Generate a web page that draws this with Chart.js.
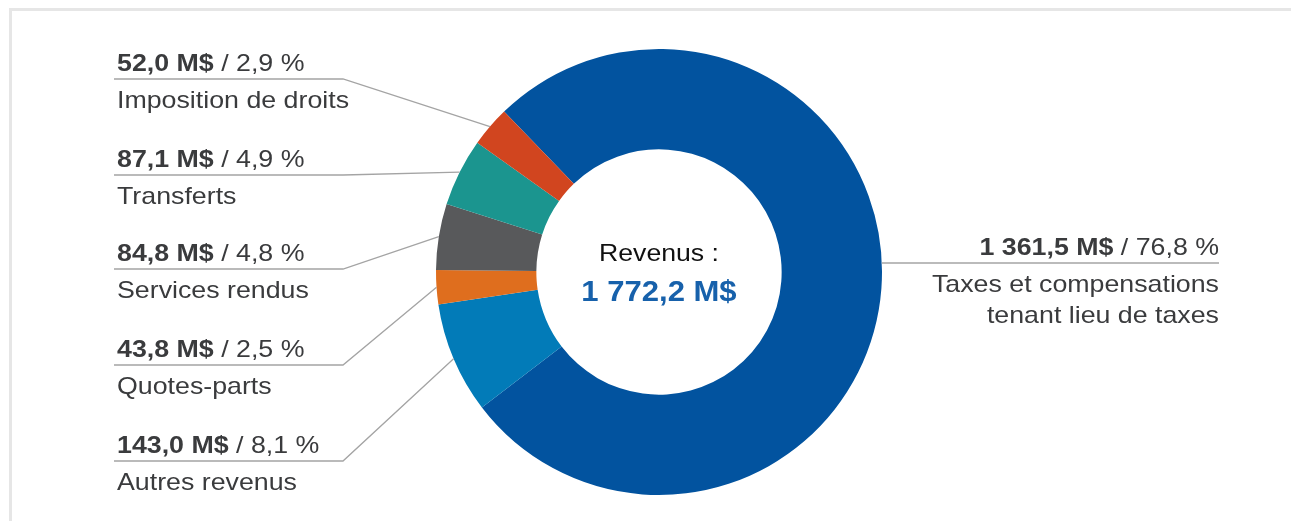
<!DOCTYPE html>
<html lang="fr">
<head>
<meta charset="UTF-8">
<title>Revenus</title>
<script src="https://cdn.jsdelivr.net/npm/chart.js"></script>
<style>
  html, body { margin: 0; padding: 0; background: #fff; }
  #frame { position: absolute; left: 9px; top: 8px; right: 0; bottom: 0; border-top: 3px solid #e6e6e6; border-left: 3px solid #e6e6e6; }
  #chart { position: absolute; left: 0; top: 0; }
</style>
</head>
<body>
<div id="frame"></div>
<canvas id="chart" width="1291" height="521"></canvas>
<script>
  // data (clockwise from the big slice)
  const categories = [
    ['Taxes et compensations', 'tenant lieu de taxes'],
    ['Autres revenus'],
    ['Quotes-parts'],
    ['Services rendus'],
    ['Transferts'],
    ['Imposition de droits']
  ];
  const values = [1361.5, 143.0, 43.8, 84.8, 87.1, 52.0];
  const percents = [76.8, 8.1, 2.5, 4.8, 4.9, 2.9];
  const centerTitle = 'Revenus :';

  const colors = ['#02539f', '#027bb8', '#df6e1e', '#58595b', '#1b958f', '#d1451f'];
  const FONT = '"Liberation Sans", Arial, sans-serif';

  const fmt = (v) => {
    const [i, d] = v.toFixed(1).split('.');
    return i.replace(/\B(?=(\d{3})+(?!\d))/g, ' ') + ',' + d;
  };

  // text with a slight horizontal stretch, mixed bold / normal parts
  function drawRich(ctx, parts, x, y, align, size, sx, color) {
    ctx.save();
    ctx.fillStyle = color;
    ctx.textBaseline = 'alphabetic';
    ctx.textAlign = 'left';
    const fontFor = p => (p.b ? 'bold ' : '') + size + 'px ' + FONT;
    let w = 0;
    parts.forEach(p => { ctx.font = fontFor(p); w += ctx.measureText(p.t).width; });
    const left = align === 'right' ? x - w * sx : align === 'center' ? x - w * sx / 2 : x;
    ctx.translate(left, y);
    ctx.scale(sx, 1);
    let off = 0;
    parts.forEach(p => { ctx.font = fontFor(p); ctx.fillText(p.t, off, 0); off += ctx.measureText(p.t).width; });
    ctx.restore();
  }

  const calloutPlugin = {
    id: 'callouts',
    afterDatasetsDraw(chart, args, o) {
      const ctx = chart.ctx;
      const meta = chart.getDatasetMeta(0);
      ctx.save();
      meta.data.forEach((arc, i) => {
        const p = arc.getProps(['x', 'y', 'startAngle', 'endAngle', 'outerRadius'], true);
        const ly = o.lineY[i];
        const right = i === 0;
        ctx.strokeStyle = '#a4a4a4';
        ctx.lineWidth = 1.3;
        ctx.beginPath();
        if (right) {
          const dy = ly - p.y;
          ctx.moveTo(p.x + Math.sqrt(p.outerRadius * p.outerRadius - dy * dy), ly);
          ctx.lineTo(o.rightX, ly);
        } else {
          const mid = (p.startAngle + p.endAngle) / 2;
          ctx.moveTo(o.leftX, ly);
          ctx.lineTo(o.elbowX, ly);
          ctx.lineTo(p.x + Math.cos(mid) * p.outerRadius, p.y + Math.sin(mid) * p.outerRadius);
        }
        ctx.stroke();

        const tx = right ? o.rightX : o.textX;
        const al = right ? 'right' : 'left';
        drawRich(ctx, [{ t: fmt(values[i]) + ' M$', b: true }, { t: ' / ' + fmt(percents[i]) + ' %', b: false }],
          tx, ly - 8, al, 24, 1.115, '#3a3b3d');
        categories[i].forEach((line, k) => {
          drawRich(ctx, [{ t: line, b: false }], tx, ly + 29 + k * 31, al, 24, 1.115, '#3a3b3d');
        });
      });

      // centre text
      const c = meta.data[0];
      const total = values.reduce((a, b) => a + b, 0);
      drawRich(ctx, [{ t: centerTitle, b: false }], c.x, 261, 'center', 24, 1.11, '#111111');
      drawRich(ctx, [{ t: fmt(total) + ' M$', b: true }], c.x, 301, 'center', 29, 1.07, '#1761ab');
      ctx.restore();
    }
  };

  new Chart(document.getElementById('chart'), {
    type: 'doughnut',
    data: {
      labels: categories,
      datasets: [{
        data: values,
        backgroundColor: colors,
        borderWidth: 0,
        hoverOffset: 0,
        offset: 0
      }]
    },
    options: {
      responsive: false,
      animation: false,
      rotation: -44,
      cutout: '55%',
      layout: { padding: { left: 436, right: 409, top: 49, bottom: 26 } },
      plugins: {
        legend: { display: false },
        tooltip: { enabled: false },
        callouts: { lineY: [263, 461, 365, 269, 175, 79], leftX: 114, elbowX: 343, textX: 117, rightX: 1219 }
      }
    },
    plugins: [calloutPlugin]
  });
</script>
</body>
</html>
